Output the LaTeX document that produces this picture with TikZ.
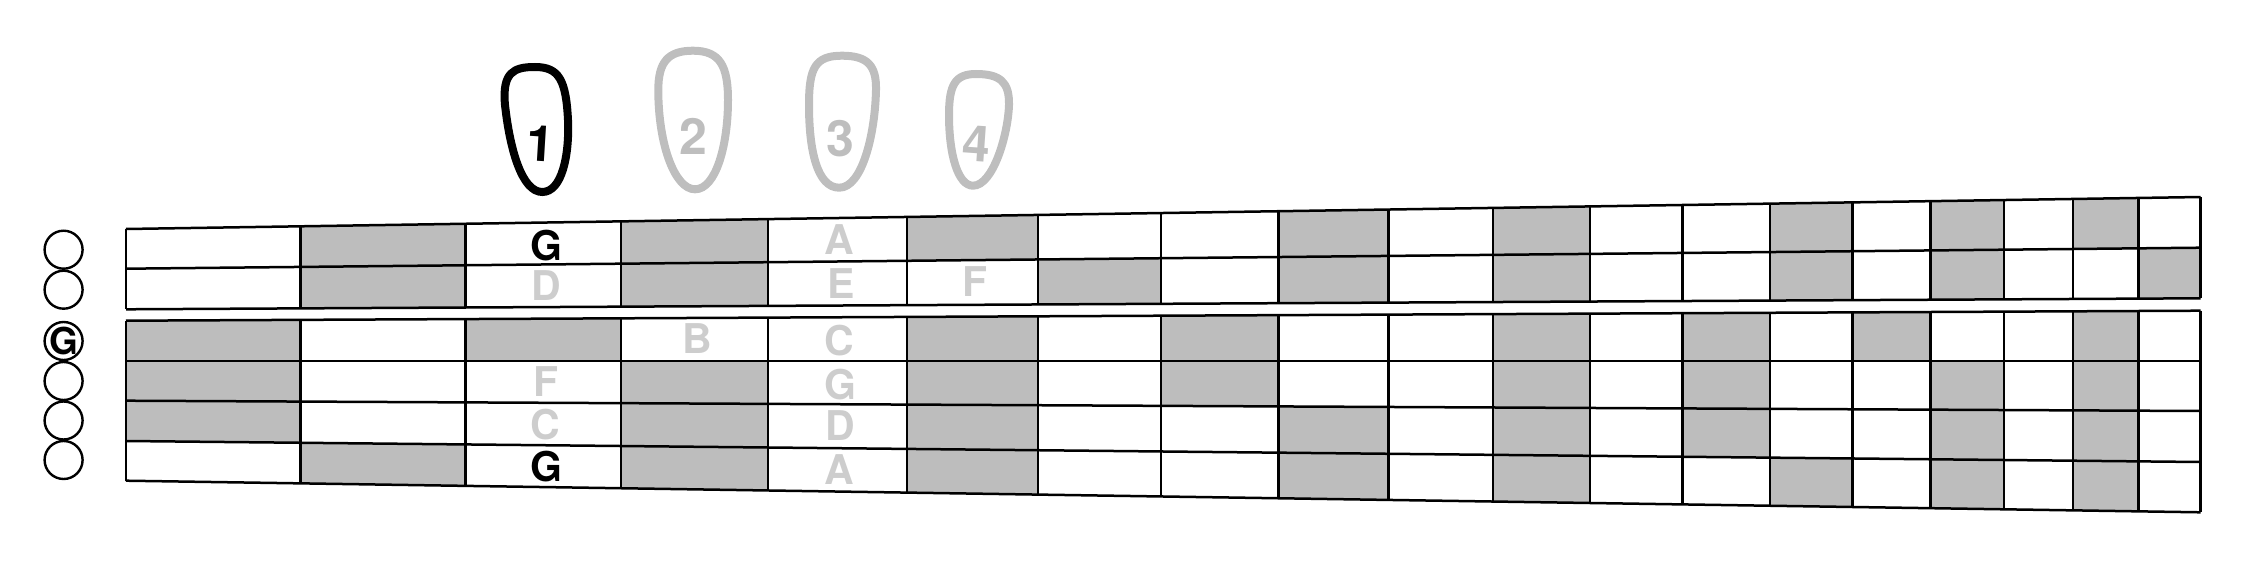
\documentclass[tikz,border=0pt]{standalone}
\usepackage{fontspec}
\setmainfont{TeX Gyre Heros}
\definecolor{cellgrey}{HTML}{BDBDBD}
\definecolor{fadegrey}{HTML}{BEBEBE}
\definecolor{lettergrey}{HTML}{CDCDCD}
\def\XS{{126,300.6,465.6,621,768.2,906.9,1038,1161,1278.5,1388.5,1493,1590,1682.7,1770,1852.5,1930.5,2003.8,2073,2138.4,2200.7}}
\def\YL{{229,268.7,309.3,320.7,361,400.7,441,480.7}}
\def\YR{{197,247.7,298.3,310.7,361,411,462,512.3}}
\tikzset{
  gridline/.style={draw=black,line width=2.5pt},
  ringmark/.style={draw=black,line width=2.4pt,circle,minimum size=38pt,inner sep=0pt},
  fingerblack/.style={draw=black,line width=8pt},
  fingerfade/.style={draw=fadegrey,line width=8pt},
  noteon/.style={text=black,inner sep=0pt,font=\fontsize{41}{41}\selectfont\bfseries},
  noteoff/.style={text=lettergrey,inner sep=0pt,font=\fontsize{41}{41}\selectfont\bfseries},
  digiton/.style={text=black,inner sep=0pt,font=\fontsize{50}{50}\selectfont\bfseries},
  digitoff/.style={text=fadegrey,inner sep=0pt,font=\fontsize{50}{50}\selectfont\bfseries},
}
\begin{document}
\begin{tikzpicture}[x=1pt,y=-1pt]
\useasboundingbox (0,0) rectangle (2246,583);
% grid points
\foreach \l in {0,...,7}{
  \foreach \c in {0,...,19}{
    \pgfmathsetmacro\px{\XS[\c]}
    \pgfmathsetmacro\tt{(\px-126)/2074.7}
    \pgfmathsetmacro\py{\YL[\l]+\tt*(\YR[\l]-\YL[\l])}
    \coordinate (p-\l-\c) at (\px,\py);
  }
}
% shaded cells: line / column
\foreach \l/\c in {0/1,0/3,0/5,0/8,0/10,0/13,0/15,0/17,
                   1/1,1/3,1/6,1/8,1/10,1/13,1/15,1/18,
                   3/0,3/2,3/5,3/7,3/10,3/12,3/14,3/17,
                   4/0,4/3,4/5,4/7,4/10,4/12,4/15,4/17,
                   5/0,5/3,5/5,5/8,5/10,5/12,5/15,5/17,
                   6/1,6/3,6/5,6/8,6/10,6/13,6/15,6/17}{
  \pgfmathtruncatemacro\ln{\l+1}
  \pgfmathtruncatemacro\cn{\c+1}
  \fill[cellgrey] (p-\l-\c) -- (p-\l-\cn) -- (p-\ln-\cn) -- (p-\ln-\c) -- cycle;
}
% lines
\foreach \l in {0,...,7}{ \draw[gridline] (p-\l-0) -- (p-\l-19); }
\foreach \c in {0,...,19}{
  \draw[gridline] (p-0-\c) -- (p-2-\c);
  \draw[gridline] (p-3-\c) -- (p-7-\c);
}
% open-string rings
\node[ringmark] (s1) at (63.6,249.7) {};
\node[ringmark] (s2) at (63.6,289.7) {};
\node[ringmark] (s3) at (63.6,341) {};
\node[ringmark] (s4) at (63.6,381) {};
\node[ringmark] (s5) at (63.6,420.5) {};
\node[ringmark] (s6) at (63.6,460) {};
\node[text=black,inner sep=0pt,font=\fontsize{37}{37}\selectfont\bfseries] (sg) at (s3) {G};
% fingers
\draw[fingerblack] (535,67) .. controls (559,67) and (566,80) .. (568,120) .. controls (569.5,155) and (562,192) .. (542.3,192) .. controls (522,192) and (510,150) .. (505,105) .. controls (502,72) and (514,67) .. cycle;
\draw[fingerfade] (693,50.7) .. controls (720,50.7) and (728,66) .. (728,100) .. controls (728,145) and (716,189.3) .. (695,189.3) .. controls (675,189.3) and (658.3,145) .. (658.3,90) .. controls (658.3,62) and (668,50.7) .. cycle;
\draw[fingerfade] (842,55.7) .. controls (868,55.7) and (876.5,66) .. (876,90) .. controls (875,135) and (862,187.7) .. (839.3,187.7) .. controls (817,187.7) and (809,150) .. (809,105) .. controls (809,68) and (815,55.7) .. cycle;
\draw[fingerfade] (976,74) .. controls (1000,74) and (1009.5,82) .. (1009,105) .. controls (1008,135) and (993,185.7) .. (973,185.7) .. controls (958,185.7) and (949,155) .. (949,115) .. controls (949,85) and (955,74) .. cycle;
\node[digiton,rotate=-3.5] (d1) at (540.5,144) {1};
\node[digitoff] (d2) at (693.3,136) {2};
\node[digitoff] (d3) at (840,138.3) {3};
\node[digitoff,rotate=-4] (d4) at (977,144) {4};
% notes
\node[noteon]  (n1) at (546,245.5) {G};
\node[noteoff] (n2) at (546,286) {D};
\node[noteoff] (n3) at (839,240) {A};
\node[noteoff] (n4) at (841,284) {E};
\node[noteoff] (n5) at (975,282) {F};
\node[noteoff] (n6) at (697.4,339) {B};
\node[noteoff] (n7) at (839,340.3) {C};
\node[noteoff] (n8) at (546,382) {F};
\node[noteoff] (n9) at (840,384.5) {G};
\node[noteoff] (n10) at (545,425) {C};
\node[noteoff] (n11) at (840,426) {D};
\node[noteon]  (n12) at (546,467) {G};
\node[noteoff] (n13) at (839,470) {A};
\end{tikzpicture}
\end{document}
